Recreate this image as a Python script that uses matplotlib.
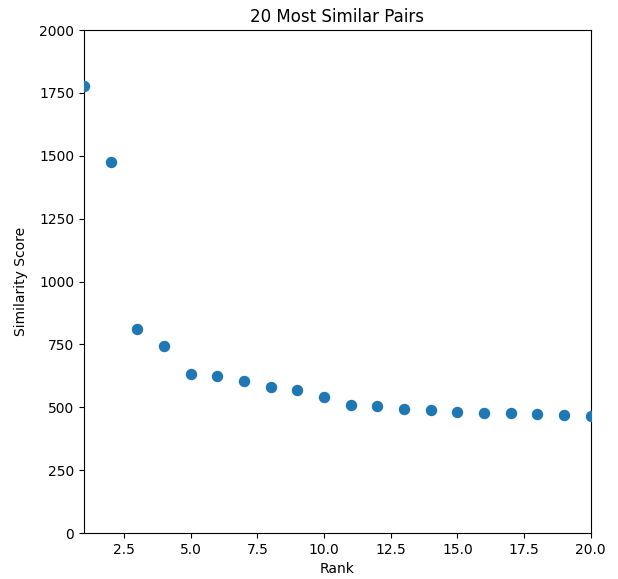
import matplotlib
matplotlib.use("Agg")
import matplotlib.pyplot as plt

# rank of each pair and its similarity score
ranks = list(range(1, 21))
scores = [1779, 1477, 810, 745, 632, 623, 606, 579, 567, 540,
          510, 505, 492, 488, 482, 476, 476, 475, 468, 466]


def plot_pairs():
    fig = plt.figure(figsize=(6.18, 5.79), dpi=100)
    ax = fig.add_axes([0.136, 0.0794, 0.82, 0.8686])
    ax.scatter(ranks, scores, color='#1f77b4', s=52, zorder=3)
    ax.set_xlim(1, 20)
    ax.set_ylim(0, 2000)
    ax.set_title('20 Most Similar Pairs')
    ax.set_xlabel('Rank')
    ax.set_ylabel('Similarity Score', labelpad=8)
    fig.savefig('out.png', dpi=100)


if __name__ == "__main__":
    plot_pairs()
